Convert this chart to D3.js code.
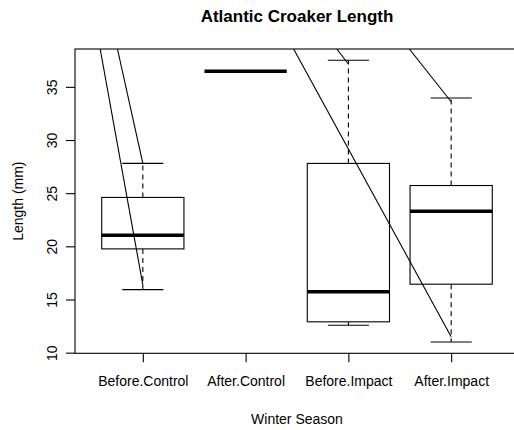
<html>
<head>
<script src="https://d3js.org/d3.v7.min.js"></script>
<style>
  body { margin: 0; background: #fff; }
  text { font-family: "Liberation Sans", Arial, sans-serif; fill: #000; }
</style>
</head>
<body>
<svg class="chart" width="514" height="430"></svg>
<script>
// box statistics
var categories = ["Before.Control", "After.Control", "Before.Impact", "After.Impact"];
var whiskerLow  = [15.93, 36.46, 12.58, 11.0];
var q1          = [19.76, 36.46, 12.9, 16.44];
var median      = [21.05, 36.46, 15.72, 23.31];
var q3          = [24.6, 36.46, 27.8, 25.72];
var whiskerHigh = [27.8, 36.46, 37.5, 33.95];
var yTicks = [10, 15, 20, 25, 30, 35];

// the stray diagonal lines (start on the top edge of the plot)
var segStartX = [0.585, 0.753, 2.467, 2.887, 3.593];
var segEndX   = [1, 1, 4, 3, 4];
var segEndY   = [16.37, 27.8, 11.5, 37.15, 33.6];

var svg = d3.select(".chart");

// R style limits: 0.5..4.5 and data range, each widened by 4%
var x = d3.scaleLinear().domain([0.34, 4.66]).range([75, 519]);
var y = d3.scaleLinear().domain([9.94, 38.56]).range([353.3, 49]);
var unit = x(2) - x(1);

var plot = svg.append("g");
plot.append("clipPath").attr("id", "clip")
  .append("rect")
    .attr("x", x(0.34)).attr("y", y(38.56))
    .attr("width", x(4.66) - x(0.34)).attr("height", y(9.94) - y(38.56));

var boxes = categories.map(function(c, i) {
  return {i: i + 1, lo: whiskerLow[i], q1: q1[i], med: median[i], q3: q3[i], hi: whiskerHigh[i]};
});

var g = plot.selectAll(".box").data(boxes).enter().append("g").attr("class", "box");

// dashed whiskers
g.append("line")
  .attr("x1", function(d) { return x(d.i); }).attr("x2", function(d) { return x(d.i); })
  .attr("y1", function(d) { return y(d.q3); }).attr("y2", function(d) { return y(d.hi); })
  .attr("stroke", "#000").attr("stroke-width", 1.1).attr("stroke-dasharray", "5,4");
g.append("line")
  .attr("x1", function(d) { return x(d.i); }).attr("x2", function(d) { return x(d.i); })
  .attr("y1", function(d) { return y(d.q1); }).attr("y2", function(d) { return y(d.lo); })
  .attr("stroke", "#000").attr("stroke-width", 1.1).attr("stroke-dasharray", "5,4");

// staples
[function(d) { return d.hi; }, function(d) { return d.lo; }].forEach(function(f) {
  g.append("line")
    .attr("x1", function(d) { return x(d.i - 0.2); }).attr("x2", function(d) { return x(d.i + 0.2); })
    .attr("y1", function(d) { return y(f(d)); }).attr("y2", function(d) { return y(f(d)); })
    .attr("stroke", "#000").attr("stroke-width", 1.1);
});

// boxes
g.append("rect")
  .attr("x", function(d) { return x(d.i - 0.4); })
  .attr("y", function(d) { return y(d.q3); })
  .attr("width", 0.8 * unit)
  .attr("height", function(d) { return y(d.q1) - y(d.q3); })
  .attr("fill", "#fff").attr("stroke", "#000").attr("stroke-width", 1.1);

// medians
g.append("line")
  .attr("x1", function(d) { return x(d.i - 0.4); }).attr("x2", function(d) { return x(d.i + 0.4); })
  .attr("y1", function(d) { return y(d.med); }).attr("y2", function(d) { return y(d.med); })
  .attr("stroke", "#000").attr("stroke-width", 3.5);

// diagonal lines, clipped to the plot
plot.append("g").attr("clip-path", "url(#clip)")
  .selectAll("line").data(segStartX).enter().append("line")
    .attr("x1", function(d) { return x(d); })
    .attr("y1", y(38.56))
    .attr("x2", function(d, i) { return x(segEndX[i]); })
    .attr("y2", function(d, i) { return y(segEndY[i]); })
    .attr("stroke", "#000").attr("stroke-width", 1.1);

// frame
svg.append("rect")
  .attr("x", x(0.34)).attr("y", y(38.56))
  .attr("width", x(4.66) - x(0.34)).attr("height", y(9.94) - y(38.56))
  .attr("fill", "none").attr("stroke", "#000").attr("stroke-width", 1.1);

// y axis
var ya = svg.append("g")
  .attr("transform", "translate(" + x(0.34) + ",0)")
  .call(d3.axisLeft(y).tickValues(yTicks).tickSize(9).tickSizeOuter(0));
ya.select(".domain").remove();
ya.selectAll("line").attr("stroke", "#000").attr("stroke-width", 1.1);
ya.selectAll("text")
  .attr("x", null).attr("dy", null)
  .attr("text-anchor", "middle")
  .attr("transform", "translate(-18,0) rotate(-90)")
  .style("font-size", "14px").style("font-family", "'Liberation Sans', Arial, sans-serif");

// x axis
var xa = svg.append("g")
  .attr("transform", "translate(0," + y(9.94) + ")")
  .call(d3.axisBottom(x).tickValues([1, 2, 3, 4]).tickSize(9).tickSizeOuter(0)
    .tickFormat(function(d) { return categories[d - 1]; }));
xa.select(".domain").remove();
xa.selectAll("line").attr("stroke", "#000").attr("stroke-width", 1.1);
xa.selectAll("text")
  .attr("y", 33).attr("dy", null)
  .style("font-size", "14px").style("font-family", "'Liberation Sans', Arial, sans-serif");

// titles
svg.append("text")
  .attr("x", (x(0.34) + x(4.66)) / 2).attr("y", 22)
  .attr("text-anchor", "middle")
  .style("font-size", "17px").style("font-weight", "bold")
  .text("Atlantic Croaker Length");

svg.append("text")
  .attr("x", (x(0.34) + x(4.66)) / 2).attr("y", 424)
  .attr("text-anchor", "middle")
  .style("font-size", "14px")
  .text("Winter Season");

svg.append("text")
  .attr("transform", "translate(22.5," + (y(9.94) + y(38.56)) / 2 + ") rotate(-90)")
  .attr("text-anchor", "middle")
  .style("font-size", "14px")
  .text("Length (mm)");
</script>
</body>
</html>
